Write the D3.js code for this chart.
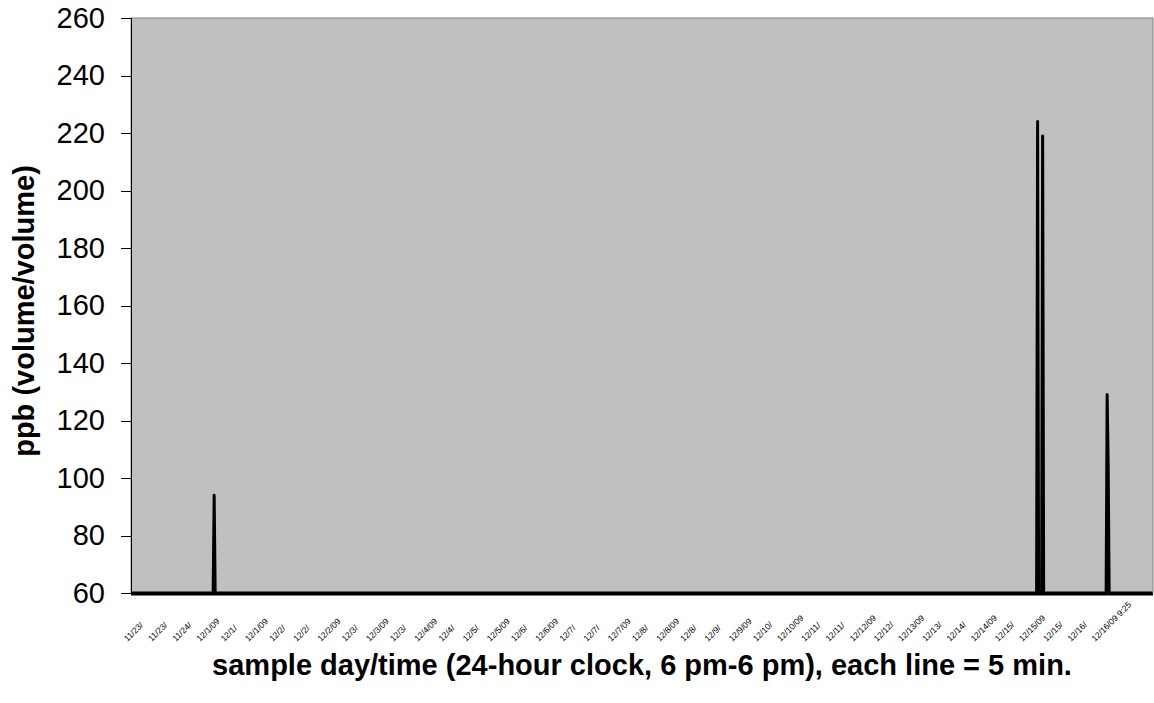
<!DOCTYPE html>
<html>
<head>
  <meta charset="utf-8">
  <script src="https://d3js.org/d3.v7.min.js"></script>
  <style>
    body { margin: 0; background: #fff; }
    svg { display: block; font-family: "Liberation Sans", Arial, sans-serif; }
    .yaxis text { font-size: 29px; fill: #000; }
    .yaxis line, .yaxis path { stroke: #000; shape-rendering: crispEdges; }
    .xaxis text { font-size: 8.5px; fill: #000; }
    .xaxis path, .xaxis line { display: none; }
    .title { font-weight: bold; font-size: 29px; fill: #000; }
  </style>
</head>
<body>
<script>
  // category labels shown under the axis (one every 24 samples, clipped the way the picture shows them)
  var xLabels = ["11/23/","11/23/","11/24/","12/1/09","12/1/","12/1/09","12/2/","12/2/","12/2/09","12/3/",
                 "12/3/09","12/3/","12/4/09","12/4/","12/5/","12/5/09","12/6/","12/6/09","12/7/","12/7/",
                 "12/7/09","12/8/","12/8/09","12/8/","12/9/","12/9/09","12/10/","12/10/09","12/11/","12/11/",
                 "12/12/09","12/12/","12/13/09","12/13/","12/14/","12/14/09","12/15/","12/15/09","12/15/","12/16/",
                 "12/16/09 9:25"];
  var sampleCount = 1014;     // 5-minute samples on the category axis
  var labelEvery = 24;

  // readings above zero (sample index, ppb); every other sample reads 0
  var hitIdx = [82, 899, 904, 968, 969];
  var hitPpb = [94, 224, 219, 129, 105];
  var baseline = 0;

  var yTicks = [60, 80, 100, 120, 140, 160, 180, 200, 220, 240, 260];

  var W = 1154, H = 703;
  var plotL = 131, plotR = 1153, plotT = 18, plotB = 593;

  var svg = d3.select("body").append("svg").attr("width", W).attr("height", H);

  var x = d3.scaleLinear().domain([0, sampleCount]).range([plotL, plotR]);
  var y = d3.scaleLinear().domain([60, 260]).range([plotB, plotT]).clamp(true);

  svg.append("rect")
    .attr("x", plotL).attr("y", plotT)
    .attr("width", plotR - plotL).attr("height", plotB - plotT)
    .attr("fill", "#c0c0c0")
    .attr("stroke", "#808080")
    .attr("stroke-width", 1);

  // y axis
  svg.append("g")
    .attr("class", "yaxis")
    .attr("transform", "translate(" + plotL + ",0)")
    .call(d3.axisLeft(y).tickValues(yTicks).tickSize(10).tickPadding(16).tickSizeOuter(0));

  // x axis labels
  var labelIdx = xLabels.map(function(d, i) { return i * labelEvery; });
  var xg = svg.append("g")
    .attr("class", "xaxis")
    .attr("transform", "translate(0," + plotB + ")")
    .call(d3.axisBottom(x)
      .tickValues(labelIdx.map(function(d) { return d + 0.5; }))
      .tickFormat(function(d, i) { return xLabels[i]; })
      .tickSize(0));
  xg.selectAll("text")
    .attr("x", 0).attr("y", 0).attr("dy", 0)
    .attr("text-anchor", "start")
    .attr("transform", "translate(-4.5,49) rotate(-45)");

  // series: sparse readings padded with zero neighbours
  var pts = new Map();
  pts.set(0, baseline);
  pts.set(sampleCount - 1, baseline);
  hitIdx.forEach(function(i) {
    if (!pts.has(i - 1)) pts.set(i - 1, baseline);
    if (!pts.has(i + 1)) pts.set(i + 1, baseline);
  });
  hitIdx.forEach(function(i, k) { pts.set(i, hitPpb[k]); });
  var series = Array.from(pts.entries()).sort(function(a, b) { return a[0] - b[0]; });

  var line = d3.line()
    .x(function(d) { return x(d[0] + 0.5); })
    .y(function(d) { return y(d[1]); });

  svg.append("path")
    .datum(series)
    .attr("d", line)
    .attr("fill", "none")
    .attr("stroke", "#000")
    .attr("stroke-width", 3)
    .attr("stroke-linejoin", "round");

  // category axis line under the clamped series
  svg.append("line")
    .attr("x1", plotL).attr("x2", plotR)
    .attr("y1", plotB + 1.5).attr("y2", plotB + 1.5)
    .attr("stroke", "#000").attr("stroke-width", 2);

  // left axis line on top
  svg.append("line")
    .attr("x1", plotL).attr("x2", plotL)
    .attr("y1", plotT).attr("y2", plotB)
    .attr("stroke", "#000").attr("shape-rendering", "crispEdges");

  // titles
  svg.append("text")
    .attr("class", "title")
    .attr("text-anchor", "middle")
    .attr("transform", "translate(34,311) rotate(-90)")
    .text("ppb (volume/volume)");

  svg.append("text")
    .attr("class", "title")
    .attr("text-anchor", "middle")
    .attr("x", 642).attr("y", 675)
    .text("sample day/time (24-hour clock, 6 pm-6 pm), each line = 5 min.");
</script>
</body>
</html>
